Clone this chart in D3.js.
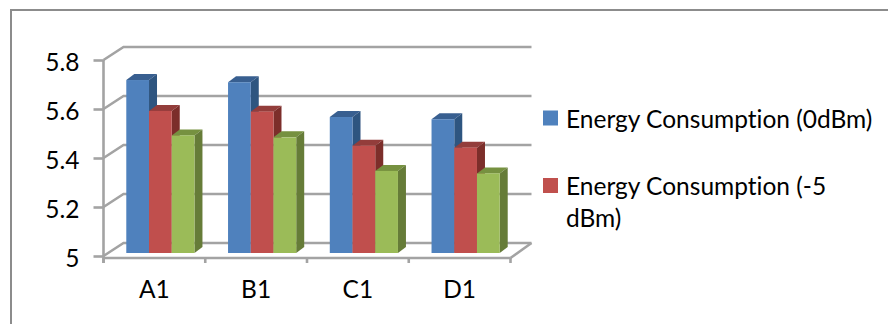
<!DOCTYPE html>
<html lang="en">
<head>
  <meta charset="UTF-8">
  <title>Energy Consumption</title>
  <script src="https://d3js.org/d3.v7.min.js"></script>
  <style>
    body { margin: 0; background: #fff; }
    svg { display: block; }
    text { font-family: Lato, sans-serif; fill: #000; font-variant-ligatures: none; }
    .axis text { font-size: 24.5px; }
    .axis path, .axis line, .grid { stroke: #a3a3a3; stroke-width: 2.6px; fill: none; }
    .legend text { font-size: 24.5px; }
  </style>
</head>
<body>
  <div id="chart"></div>
  <script>
    const categories = ["A1", "B1", "C1", "D1"];
    const seriesKeys = ["0dBm", "-5dBm", "third"];
    const values0dBm = [5.706, 5.697, 5.555, 5.546];
    const valuesMinus5dBm = [5.58, 5.577, 5.438, 5.43];
    const valuesThird = [5.48, 5.472, 5.335, 5.325];
    const yTicks = [5, 5.2, 5.4, 5.6, 5.8];
    const legendLines = [
      ["Energy Consumption (0dBm)"],
      ["Energy Consumption (-5", "dBm)"]
    ];
    const legendBaselines = [[127.5], [195, 227]];
    const fills = ["#4f81bd", "#c0504d", "#9bbb59"];
    const topFills = ["#385f90", "#933d3a", "#76913f"];
    const sideFills = ["#2f5480", "#7c2d2b", "#667b39"];

    const W = 888, H = 324;
    const depth = { x: 20, y: -13 };     // front to back wall
    const barDepth = { x: 8, y: -6 };    // depth of one bar
    const barShift = { x: 6, y: -3 };    // bars sit a bit inside the floor

    const svg = d3.select("#chart").append("svg").attr("width", W).attr("height", H);

    const defs = svg.append("defs");
    defs.append("filter").attr("id", "soft")
      .append("feGaussianBlur").attr("stdDeviation", 0.45);

    // page frame, only top and left show in the crop
    svg.append("path")
      .attr("d", "M11,324V10H888")
      .attr("fill", "none").attr("stroke", "#8c8c8c").attr("stroke-width", 2);

    const x = d3.scaleBand().domain(categories).range([103.5, 510.5]).paddingInner(0.33).paddingOuter(0.165);
    const xAxisScale = d3.scaleBand().domain(categories).range([103.5, 510.5]);
    const xInner = d3.scaleBand().domain(seriesKeys).range([0, x.bandwidth()]);
    const y = d3.scaleLinear().domain([5, 5.8]).range([256, 60]);

    const chart = svg.append("g").attr("filter", "url(#soft)");

    // back wall lines and the diagonals on the left wall
    yTicks.forEach(t => {
      chart.append("path").attr("class", "grid")
        .attr("d", d3.line()([
          [xAxisScale.range()[0], y(t)],
          [xAxisScale.range()[0] + depth.x, y(t) + depth.y],
          [xAxisScale.range()[1] + depth.x + 1, y(t) + depth.y]
        ]));
    });

    // floor, right hand edge
    chart.append("path").attr("class", "grid")
      .attr("d", d3.line()([
        [xAxisScale.range()[1] + depth.x + 1, y(5) + depth.y],
        [xAxisScale.range()[1], y(5) + 2]
      ]));

    const yAxis = svg.append("g").attr("class", "axis")
      .attr("transform", `translate(${xAxisScale.range()[0]},0)`)
      .call(d3.axisLeft(y).tickValues(yTicks).tickSize(10).tickPadding(14).tickFormat(d3.format("~g")));
    yAxis.select(".domain").attr("d", `M0,${y(5.8)}V263`);
    yAxis.selectAll("text").attr("dy", "0.42em");

    const xAxis = svg.append("g").attr("class", "axis")
      .attr("transform", `translate(0,${y(5) + 2})`)
      .call(d3.axisBottom(xAxisScale).tickSize(0).tickPadding(28));
    xAxis.select(".domain").attr("d", `M${xAxisScale.range()[0]},0H${xAxisScale.range()[1]}`);
    xAxis.selectAll("g.tick text").attr("dy", "0.5em");
    xAxis.selectAll(".bound")
      .data(d3.range(categories.length + 1))
      .enter().append("line")
      .attr("x1", i => xAxisScale.range()[0] + i * xAxisScale.step())
      .attr("x2", i => xAxisScale.range()[0] + i * xAxisScale.step())
      .attr("y1", 0).attr("y2", 5);

    // bars, one 3d box for each value
    const seriesValues = [values0dBm, valuesMinus5dBm, valuesThird];
    const bars = svg.append("g").attr("filter", "url(#soft)");
    categories.forEach((cat, c) => {
      seriesKeys.forEach((key, s) => {
        const v = seriesValues[s][c];
        const x0 = x(cat) + xInner(key) + barShift.x;
        const x1 = x0 + xInner.bandwidth();
        const y0 = y(v) + barShift.y;
        const y1 = y(5) + barShift.y;
        const dx = barDepth.x, dy = barDepth.y;
        bars.append("polygon").attr("fill", topFills[s])
          .attr("points", [[x0, y0], [x0 + dx, y0 + dy], [x1 + dx, y0 + dy], [x1, y0]].join(" "));
        bars.append("polygon").attr("fill", sideFills[s])
          .attr("points", [[x1, y0], [x1 + dx, y0 + dy], [x1 + dx, y1 + dy], [x1, y1]].join(" "));
        bars.append("rect").attr("fill", fills[s])
          .attr("x", x0).attr("y", y0)
          .attr("width", x1 - x0).attr("height", y1 - y0);
      });
    });

    // legend
    const legendRow = d3.scalePoint().domain([0, 1]).range([110.5, 178]);
    const legend = svg.append("g").attr("class", "legend");
    legendLines.forEach((lines, i) => {
      legend.append("rect").attr("x", 543).attr("y", legendRow(i))
        .attr("width", 15).attr("height", 15).attr("fill", fills[i]);
      lines.forEach((line, j) => {
        legend.append("text").attr("x", 566)
          .attr("y", legendBaselines[i][j])
          .text(line);
      });
    });
  </script>
</body>
</html>
